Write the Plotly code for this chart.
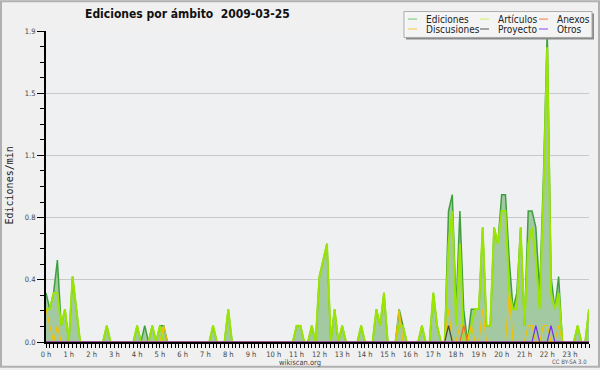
import plotly.graph_objects as go

# 10-minute bins over the day (minutes since 00:00)
minutes = list(range(0, 1440, 10))

# Edits per minute, one value per 10-minute bin (12 values per row = 2 hours)
ediciones = [
    0.3, 0.2, 0.3, 0.5, 0.1, 0.2, 0.0, 0.4, 0.2, 0.0, 0.0, 0.0,
    0.0, 0.0, 0.0, 0.0, 0.1, 0.0, 0.0, 0.0, 0.0, 0.0, 0.0, 0.0,
    0.1, 0.0, 0.1, 0.0, 0.1, 0.0, 0.1, 0.1, 0.0, 0.0, 0.0, 0.0,
    0.0, 0.0, 0.0, 0.0, 0.0, 0.0, 0.0, 0.0, 0.1, 0.0, 0.0, 0.0,
    0.2, 0.0, 0.0, 0.0, 0.0, 0.0, 0.0, 0.0, 0.0, 0.0, 0.0, 0.0,
    0.0, 0.0, 0.0, 0.0, 0.0, 0.0, 0.1, 0.1, 0.0, 0.0, 0.1, 0.0,
    0.4, 0.5, 0.6, 0.0, 0.2, 0.0, 0.1, 0.0, 0.0, 0.0, 0.0, 0.1,
    0.0, 0.0, 0.0, 0.2, 0.1, 0.3, 0.0, 0.0, 0.0, 0.2, 0.1, 0.0,
    0.0, 0.0, 0.0, 0.1, 0.0, 0.0, 0.3, 0.1, 0.0, 0.0, 0.8, 0.9,
    0.2, 0.8, 0.2, 0.0, 0.2, 0.2, 0.2, 0.7, 0.1, 0.1, 0.7, 0.6,
    0.9, 0.9, 0.5, 0.2, 0.3, 0.7, 0.1, 0.8, 0.8, 0.7, 0.3, 1.0,
    1.9, 0.4, 0.2, 0.4, 0.0, 0.0, 0.0, 0.0, 0.1, 0.0, 0.0, 0.2,
]
articulos = [
    0.2, 0.2, 0.3, 0.3, 0.1, 0.2, 0.0, 0.4, 0.2, 0.0, 0.0, 0.0,
    0.0, 0.0, 0.0, 0.0, 0.1, 0.0, 0.0, 0.0, 0.0, 0.0, 0.0, 0.0,
    0.1, 0.0, 0.0, 0.0, 0.1, 0.0, 0.1, 0.0, 0.0, 0.0, 0.0, 0.0,
    0.0, 0.0, 0.0, 0.0, 0.0, 0.0, 0.0, 0.0, 0.1, 0.0, 0.0, 0.0,
    0.2, 0.0, 0.0, 0.0, 0.0, 0.0, 0.0, 0.0, 0.0, 0.0, 0.0, 0.0,
    0.0, 0.0, 0.0, 0.0, 0.0, 0.0, 0.1, 0.1, 0.0, 0.0, 0.1, 0.0,
    0.4, 0.5, 0.6, 0.0, 0.2, 0.0, 0.1, 0.0, 0.0, 0.0, 0.0, 0.1,
    0.0, 0.0, 0.0, 0.2, 0.1, 0.3, 0.0, 0.0, 0.0, 0.1, 0.1, 0.0,
    0.0, 0.0, 0.0, 0.1, 0.0, 0.0, 0.3, 0.1, 0.0, 0.0, 0.6, 0.8,
    0.1, 0.6, 0.0, 0.0, 0.1, 0.2, 0.2, 0.7, 0.1, 0.1, 0.7, 0.6,
    0.8, 0.8, 0.3, 0.2, 0.2, 0.7, 0.1, 0.6, 0.7, 0.5, 0.2, 0.9,
    1.8, 0.3, 0.2, 0.3, 0.0, 0.0, 0.0, 0.0, 0.1, 0.0, 0.0, 0.2,
]
discusiones = [
    0.2, 0.1, 0.0, 0.1, 0.0, 0.0, 0.0, 0.0, 0.0, 0.0, 0.0, 0.0,
    0.0, 0.0, 0.0, 0.0, 0.0, 0.0, 0.0, 0.0, 0.0, 0.0, 0.0, 0.0,
    0.0, 0.0, 0.0, 0.0, 0.0, 0.0, 0.0, 0.1, 0.0, 0.0, 0.0, 0.0,
    0.0, 0.0, 0.0, 0.0, 0.0, 0.0, 0.0, 0.0, 0.0, 0.0, 0.0, 0.0,
    0.0, 0.0, 0.0, 0.0, 0.0, 0.0, 0.0, 0.0, 0.0, 0.0, 0.0, 0.0,
    0.0, 0.0, 0.0, 0.0, 0.0, 0.0, 0.0, 0.0, 0.0, 0.0, 0.0, 0.0,
    0.0, 0.0, 0.0, 0.0, 0.0, 0.0, 0.0, 0.0, 0.0, 0.0, 0.0, 0.0,
    0.0, 0.0, 0.0, 0.0, 0.0, 0.0, 0.0, 0.0, 0.0, 0.2, 0.0, 0.0,
    0.0, 0.0, 0.0, 0.0, 0.0, 0.0, 0.0, 0.0, 0.0, 0.0, 0.2, 0.0,
    0.0, 0.1, 0.1, 0.0, 0.1, 0.0, 0.0, 0.2, 0.0, 0.0, 0.0, 0.0,
    0.0, 0.0, 0.3, 0.0, 0.0, 0.0, 0.0, 0.1, 0.1, 0.0, 0.0, 0.1,
    0.1, 0.0, 0.0, 0.1, 0.0, 0.0, 0.0, 0.0, 0.0, 0.0, 0.0, 0.0,
]
# sparse series: {bin index: value}
proyecto_pts = {106: 0.1}
anexos_pts = {110: 0.1}
otros_pts = {129: 0.1, 133: 0.1}
proyecto = [proyecto_pts.get(i, 0.0) for i in range(len(minutes))]
anexos = [anexos_pts.get(i, 0.0) for i in range(len(minutes))]
otros = [otros_pts.get(i, 0.0) for i in range(len(minutes))]

hour_ticks = list(range(24))
hour_labels = [f"{h} h" for h in hour_ticks]
y_ticks = [0.0, 0.38, 0.76, 1.14, 1.52, 1.9]
y_labels = ["0.0", "0.4", "0.8", "1.1", "1.5", "1.9"]

series = [
    ("Ediciones", ediciones, "#3f9f3f", 1.5),
    ("Artículos", articulos, "#9be600", 2.0),
    ("Discusiones", discusiones, "#f2c200", 1.2),
    ("Proyecto", proyecto, "#444444", 1.2),
    ("Anexos", anexos, "#f06a2a", 1.2),
    ("Otros", otros, "#7a2ef0", 1.2),
]

hours = [m / 60 for m in minutes]

L, R, T, B = 46, 589, 31, 344
W, H = R - L, B - T


def X(px):
    return (px - L) / W


def Y(py):
    return (B - py) / H


fig = go.Figure()
for k, (name, vals, color, width) in enumerate(series):
    kw = {}
    if k == 0:
        kw = dict(fill="tozeroy", fillcolor="#a3c9a3")
    fig.add_trace(go.Scatter(x=hours, y=vals, mode="lines", name=name,
                             line=dict(color=color, width=width),
                             showlegend=False, hoverinfo="skip", **kw))

tickfont = dict(family="DejaVu Sans Condensed, DejaVu Sans", size=7.5, color="#444")
fig.update_xaxes(range=[0, hours[-1]], tickmode="array", tickvals=hour_ticks,
                 ticktext=hour_labels, ticks="outside", ticklen=4, tickwidth=1,
                 tickcolor="black", showline=True, linecolor="black", linewidth=2,
                 showgrid=False, zeroline=False, tickfont=tickfont,
                 minor=dict(dtick=1 / 6, tick0=0, ticks="outside", ticklen=4,
                            tickcolor="black", tickwidth=1, showgrid=False))
fig.update_yaxes(range=[0, 1.9], tickmode="array", tickvals=y_ticks,
                 ticktext=y_labels, ticks="outside", ticklen=7, tickwidth=1,
                 tickcolor="black", showline=True, linecolor="black", linewidth=2,
                 showgrid=True, gridcolor="#c9c9c9", gridwidth=1, zeroline=False,
                 tickfont=tickfont,
                 minor=dict(dtick=0.095, tick0=0, ticks="outside", ticklen=4,
                            tickcolor="black", tickwidth=1, showgrid=False))

shapes = [
    # outer frame
    dict(type="rect", xref="paper", yref="paper", x0=X(1), x1=X(599), y0=Y(369), y1=Y(1),
         line=dict(color="#b0b0b0", width=2), fillcolor="rgba(0,0,0,0)", layer="below"),
    # legend shadow + box
    dict(type="rect", xref="paper", yref="paper", x0=X(406), x1=X(594), y0=Y(39.5), y1=Y(13.5),
         line=dict(width=0), fillcolor="#8a8a8a", layer="above"),
    dict(type="rect", xref="paper", yref="paper", x0=X(404), x1=X(592), y0=Y(37.5), y1=Y(11.5),
         line=dict(color="#a8a8a8", width=1), fillcolor="rgba(252,252,252,0.93)", layer="above"),
]
annotations = [
    dict(text="<b>Ediciones por ámbito  2009-03-25</b>", xref="paper", yref="paper",
         x=X(187), y=Y(14), xanchor="center", yanchor="middle", showarrow=False,
         font=dict(family="DejaVu Sans Condensed, DejaVu Sans", size=12, color="#111")),
    dict(text="Ediciones/min", xref="paper", yref="paper", x=X(9.5), y=Y(187),
         xanchor="center", yanchor="middle", textangle=-90, showarrow=False,
         font=dict(family="DejaVu Sans Mono", size=10, color="#222")),
    dict(text="wikiscan.org", xref="paper", yref="paper", x=X(300), y=Y(364.5),
         xanchor="center", yanchor="middle", showarrow=False,
         font=dict(family="DejaVu Sans Condensed, DejaVu Sans", size=7.5, color="#444")),
    dict(text="CC BY-SA 3.0", xref="paper", yref="paper", x=X(589), y=Y(363.5),
         xanchor="right", yanchor="middle", showarrow=False,
         font=dict(family="DejaVu Sans Condensed, DejaVu Sans", size=6, color="#555")),
]

legend_pos = {
    "Ediciones": (408, 19), "Discusiones": (408, 29),
    "Artículos": (480, 19), "Proyecto": (480, 29),
    "Anexos": (539, 19), "Otros": (539, 29),
}
legend_colors = {"Ediciones": "#6fc46f", "Artículos": "#c8f060", "Discusiones": "#f5cc40",
                 "Proyecto": "#555555", "Anexos": "#f07a40", "Otros": "#8a44f0"}
for name, vals, color, width in series:
    lx, ly = legend_pos[name]
    shapes.append(dict(type="line", xref="paper", yref="paper", x0=X(lx), x1=X(lx + 9),
                       y0=Y(ly), y1=Y(ly), line=dict(color=legend_colors[name], width=1),
                       layer="above"))
    annotations.append(dict(text=name, xref="paper", yref="paper", x=X(lx + 16), y=Y(ly),
                            xanchor="left", yanchor="middle", showarrow=False,
                            font=dict(family="DejaVu Sans Condensed, DejaVu Sans", size=10,
                                      color="#222")))

fig.update_layout(width=600, height=370, margin=dict(l=L, r=600 - R, t=T, b=370 - B),
                  paper_bgcolor="#f0f0f0", plot_bgcolor="#eff0f2",
                  shapes=shapes, annotations=annotations, showlegend=False)

fig.write_html("out.html", config={"displayModeBar": False, "staticPlot": True},
               post_script="document.body.style.margin='0';document.body.style.padding='0';")
